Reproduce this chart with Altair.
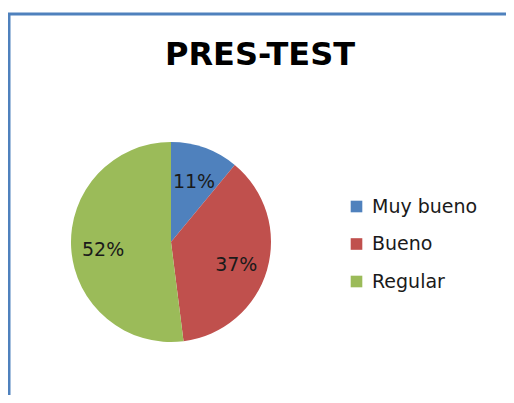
import altair as alt
import pandas as pd

categories = ["Muy bueno", "Bueno", "Regular"]
percentages = [11, 37, 52]
labels = ["11%", "37%", "52%"]
slice_order = [0, 1, 2]
colors = ["#4F81BD", "#C0504D", "#9BBB59"]
title_text = ["PRES-TEST"]

df = pd.DataFrame({"cat": categories, "pct": percentages, "label": labels, "ord": slice_order})
one = pd.DataFrame({"t": title_text})

W, H = 498, 387
CX, CY = 163, 234
FONT = "DejaVu Sans"

color = alt.Color(
    "cat:N",
    sort=categories,
    scale=alt.Scale(domain=categories, range=colors),
    legend=alt.Legend(
        title=None, orient="none", legendX=339, legendY=189,
        symbolType="square", symbolSize=135, symbolStrokeWidth=0,
        labelFontSize=19, labelFont=FONT, labelColor="#1a1a1a",
        rowPadding=17.5, labelOffset=6, padding=0,
    ),
)

base = alt.Chart(df)
pie = base.mark_arc(outerRadius=100).encode(
    theta=alt.Theta("pct:Q", stack=True),
    color=color,
    order=alt.Order("ord:Q"),
    x=alt.value(CX), y=alt.value(CY),
)
txt = base.mark_text(radius=68, fontSize=19, font=FONT, color="#1a1a1a").encode(
    theta=alt.Theta("pct:Q", stack=True),
    text="label:N",
    order=alt.Order("ord:Q"),
    x=alt.value(CX), y=alt.value(CY + 4),
)

title = alt.Chart(one).mark_text(
    fontSize=32, font=FONT, fontWeight="bold", color="#000000", baseline="alphabetic", align="center"
).encode(text="t:N", x=alt.value(252), y=alt.value(57))

top_rule = alt.Chart(one).mark_rule(color="#4F81BD", strokeWidth=3).encode(
    x=alt.value(0), x2=alt.value(W), y=alt.value(6)
)
left_rule = alt.Chart(one).mark_rule(color="#4F81BD", strokeWidth=3).encode(
    x=alt.value(1), y=alt.value(5), y2=alt.value(H)
)

chart = alt.layer(top_rule, left_rule, title, pie, txt).properties(
    width=W, height=H, autosize="none", padding=0
).configure_view(stroke=None)

chart.save("out.html", embed_options={"renderer": "svg", "actions": False})
